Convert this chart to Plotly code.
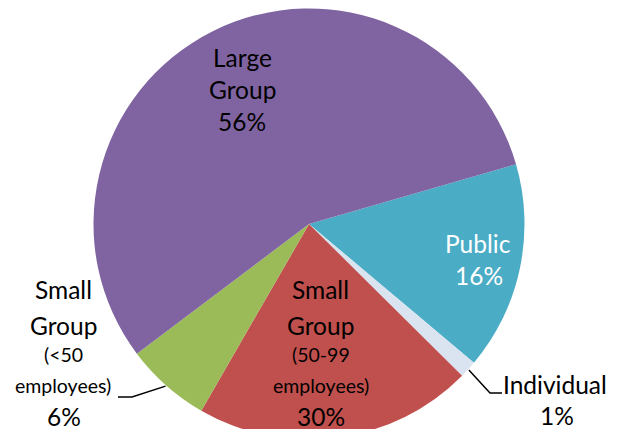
import math
import plotly.graph_objects as go

# ---- data ----
categories = ["Public", "Individual", "Small Group (50-99 employees)",
              "Small Group (<50 employees)", "Large Group"]
slice_values = [15.6, 1.3, 20.9, 6.4, 55.8]
pct_labels = ["16%", "1%", "30%", "6%", "56%"]
colors = ["#4BACC6", "#DAE4F0", "#C0504D", "#9BBB59", "#8064A2"]

W, H = 624, 440
CX, CY, R = 309, 224, 215.5
START = 73.9
FONT = "Lato"
BIG, SMALL = 24.5, 19.5


def px(x):
    return x / W


def py(y):
    return 1 - y / H


fig = go.Figure(go.Pie(
    labels=categories, values=slice_values, sort=False,
    direction="clockwise", rotation=START,
    marker=dict(colors=colors, line=dict(width=0)),
    textinfo="none", hoverinfo="label+percent", showlegend=False,
    domain=dict(x=[px(CX - R), px(CX + R)], y=[py(CY + R), py(CY - R)]),
))

# mid angles (clockwise from 12 o'clock) derived from data
total = sum(slice_values)
mids = []
acc = START
for v in slice_values:
    a = v / total * 360
    mids.append(acc + a / 2)
    acc += a


def edge(i, extra=0.0):
    t = math.radians(mids[i])
    return CX + (R + extra) * math.sin(t), CY - (R + extra) * math.cos(t)


def line_text(txt, x, baseline, size, color="black"):
    fig.add_annotation(x=px(x), y=py(baseline - 0.36 * size), xref="paper", yref="paper",
                       text=txt, showarrow=False, xanchor="center", yanchor="middle",
                       font=dict(family=FONT, size=size, color=color))


# Large Group
line_text("Large", 242, 66, BIG)
line_text("Group", 242, 98, BIG)
line_text(pct_labels[4], 242, 130, BIG)
# Public
line_text("Public", 478, 252, BIG, "white")
line_text(pct_labels[0], 479, 284, BIG, "white")
# Small group 50-99
line_text("Small", 321, 298, BIG)
line_text("Group", 321, 334, BIG)
line_text("(50-99", 321, 362, SMALL)
line_text("employees)", 321, 393, SMALL)
line_text(pct_labels[2], 321, 425, BIG)
# Small group <50
line_text("Small", 63, 298, BIG)
line_text("Group", 63, 334, BIG)
line_text("(<50", 63, 362, SMALL)
line_text("employees)", 63, 393, SMALL)
line_text(pct_labels[3], 64, 425, BIG)
# Individual
line_text("Individual", 555, 393, BIG)
line_text(pct_labels[1], 557, 424, BIG)


# leader lines
def leader(i, elbow, end):
    sx, sy = edge(i, 1)
    path = "M {} {} L {} {} L {} {}".format(px(sx), py(sy), px(elbow[0]), py(elbow[1]),
                                            px(end[0]), py(end[1]))
    fig.add_shape(type="path", path=path, xref="paper", yref="paper",
                  line=dict(color="black", width=1.5))


leader(1, (490, 393), (502, 393))
leader(3, (132, 397), (118, 397))

fig.update_layout(width=W, height=H, margin=dict(l=0, r=0, t=0, b=0),
                  paper_bgcolor="white", plot_bgcolor="white")
fig.write_html("out.html", config={"displayModeBar": False},
               post_script="document.body.style.margin='0px';document.body.style.overflow='hidden';")
